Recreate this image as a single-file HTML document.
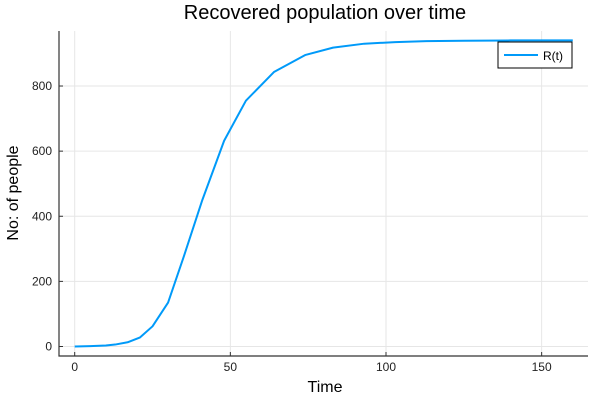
<!DOCTYPE html>
<html><head><meta charset="utf-8"><style>
body{margin:0;background:#fff}
svg{display:block;font-family:"Liberation Sans","DejaVu Sans",sans-serif}
</style></head><body>
<svg id="chart" width="600" height="400">
<text x="325" y="19" font-size="20" text-anchor="middle" fill="#000">Recovered population over time</text>
<g id="grid"></g>
<g id="axes"></g>
<text x="325" y="392" font-size="16" text-anchor="middle">Time</text>
<text x="0" y="0" font-size="16" text-anchor="middle" transform="translate(18,193) rotate(-90)">No: of people</text>
<g id="plot"></g>
<g>
<rect x="498" y="42" width="74" height="26" fill="#fff" stroke="#000" stroke-width="1"/>
<line x1="504" y1="55" x2="538" y2="55" stroke="#009af9" stroke-width="2"/>
<text x="543" y="60" font-size="12">R(t)</text>
</g>
</svg>
<script>
const times=[0,5,10,13,17,21,25,30,35,41,48,55,64,74,83,93,103,113,125,140,160];
const recovered=[0,1,3,6,13,28,62,135,275,450,632,755,843,895,918,930,935,938,939,940,940];
const xTicks=[0,50,100,150];
const yTicks=[0,200,400,600,800];
const L=59,R=588,T=31,B=356;
function xs(v){return 74.7+v*3.113;}
function ys(v){return 346.5-v*0.3256;}
const ns="http://www.w3.org/2000/svg";
const grid=document.getElementById('grid'),axes=document.getElementById('axes'),plot=document.getElementById('plot');
function mk(tag,attrs,parent){const e=document.createElementNS(ns,tag);for(const k in attrs)e.setAttribute(k,attrs[k]);parent.appendChild(e);return e;}
xTicks.forEach(t=>{
 const g=mk('line',{x1:xs(t),x2:xs(t),y1:T,y2:B,stroke:'#e6e6e6','stroke-width':1},grid);
 
 
 const l=mk('text',{x:xs(t),y:B+15,'font-size':12,'text-anchor':'middle',fill:'#222'},axes);
 l.textContent=t;
 
 
 mk('line',{x1:xs(t),x2:xs(t),y1:B,y2:B-4,stroke:'#333'},axes);
});
yTicks.forEach(t=>{
 const g=mk('line',{x1:L,x2:R,y1:ys(t),y2:ys(t),stroke:'#e6e6e6','stroke-width':1},grid);
 
 
 const l=mk('text',{x:L-7,y:ys(t)+4,'font-size':12,'text-anchor':'end',fill:'#222'},axes);
 l.textContent=t;
 
 
 mk('line',{x1:L,x2:L+4,y1:ys(t),y2:ys(t),stroke:'#333'},axes);
});
const ax=mk('path',{d:`M${L},${T}V${B}H${R}`,fill:'none',stroke:'#333','stroke-width':1.2},axes);


const p=mk('polyline',{points:times.map((t,i)=>xs(t)+','+ys(recovered[i])).join(' '),fill:'none',stroke:'#009af9','stroke-width':2,'stroke-linejoin':'round'},plot);


</script>
</body></html>
